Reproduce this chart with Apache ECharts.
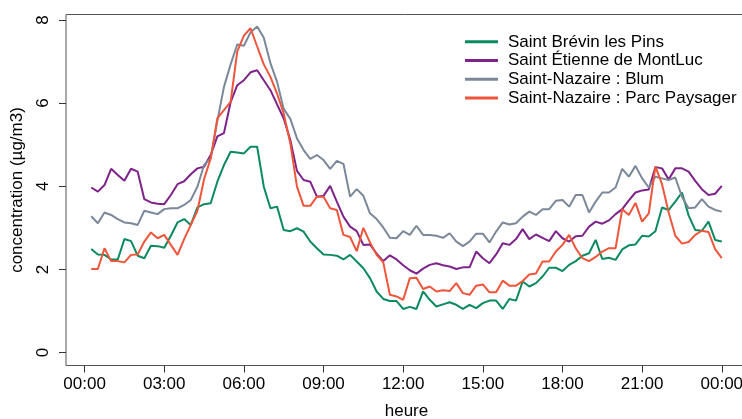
<!DOCTYPE html>
<html>
<head>
<meta charset="utf-8">
<script src="https://cdn.jsdelivr.net/npm/echarts@6/dist/echarts.min.js"></script>
<style>
  html, body { margin: 0; padding: 0; background: #fff; }
  #chart { width: 742px; height: 419px; }
</style>
</head>
<body>
<div id="chart"></div>
<script>
// Quarter-hour sampling times (hours after midnight), 00:15 .. 24:00
const hours = Array.from({ length: 96 }, (_, i) => (i + 1) * 0.25);

const stationNames = [
  'Saint Brévin les Pins',
  'Saint Étienne de MontLuc',
  'Saint-Nazaire : Blum',
  'Saint-Nazaire : Parc Paysager'
];

const stationColors = ['#0b8a5e', '#7d2389', '#7a8899', '#ef553b'];

const xTickHours = [0, 3, 6, 9, 12, 15, 18, 21, 24];
const yTickValues = [0, 2, 4, 6, 8];

// Mean concentration per quarter hour (µg/m3)
const stBrevin = [
  2.49, 2.36, 2.35, 2.24, 2.24, 2.73, 2.68, 2.33, 2.27, 2.57, 2.56, 2.52,
  2.81, 3.13, 3.21, 3.07, 3.49, 3.57, 3.59, 4.11, 4.51, 4.83, 4.81, 4.79,
  4.95, 4.95, 3.99, 3.47, 3.51, 2.95, 2.92, 2.99, 2.91, 2.67, 2.51, 2.36,
  2.35, 2.33, 2.24, 2.35, 2.19, 2.03, 1.79, 1.47, 1.29, 1.24, 1.24, 1.05,
  1.10, 1.05, 1.47, 1.27, 1.11, 1.16, 1.21, 1.15, 1.05, 1.15, 1.07, 1.19,
  1.25, 1.25, 1.05, 1.29, 1.25, 1.71, 1.59, 1.67, 1.83, 2.04, 2.04, 1.96,
  2.11, 2.20, 2.33, 2.39, 2.71, 2.25, 2.28, 2.23, 2.48, 2.58, 2.60, 2.81,
  2.79, 2.92, 3.49, 3.43, 3.63, 3.85, 3.30, 2.95, 2.93, 3.15, 2.71, 2.67
];

const stEtienne = [
  3.97, 3.87, 4.03, 4.42, 4.27, 4.13, 4.42, 4.35, 3.69, 3.61, 3.58, 3.57,
  3.79, 4.05, 4.12, 4.29, 4.43, 4.47, 4.75, 5.20, 5.28, 6.02, 6.43, 6.55,
  6.74, 6.79, 6.55, 6.31, 5.97, 5.63, 5.11, 4.37, 4.15, 4.11, 3.75, 3.77,
  4.01, 3.63, 3.27, 3.03, 2.92, 2.59, 2.60, 2.38, 2.20, 2.34, 2.24, 2.10,
  1.98, 1.90, 2.02, 2.11, 2.15, 2.10, 2.07, 2.01, 2.05, 2.05, 2.43, 2.27,
  2.15, 2.36, 2.63, 2.59, 2.73, 2.97, 2.73, 2.84, 2.76, 2.68, 2.92, 2.75,
  2.67, 2.80, 2.81, 3.03, 3.15, 3.10, 3.18, 3.33, 3.45, 3.66, 3.85, 3.90,
  3.92, 4.46, 4.43, 4.16, 4.43, 4.43, 4.35, 4.13, 3.93, 3.79, 3.82, 4.01
];

const snBlum = [
  3.28, 3.11, 3.37, 3.31, 3.21, 3.13, 3.11, 3.07, 3.41, 3.37, 3.33, 3.45,
  3.47, 3.47, 3.55, 3.67, 3.99, 4.51, 4.67, 5.57, 6.39, 6.93, 7.41, 7.38,
  7.70, 7.84, 7.57, 6.96, 6.51, 5.86, 5.62, 5.15, 4.87, 4.66, 4.75, 4.63,
  4.42, 4.61, 4.54, 3.75, 3.93, 3.77, 3.35, 3.21, 3.01, 2.76, 2.75, 2.92,
  2.83, 3.05, 2.83, 2.83, 2.81, 2.76, 2.87, 2.67, 2.56, 2.67, 2.86, 2.86,
  2.65, 2.91, 3.13, 3.08, 3.11, 3.27, 3.39, 3.31, 3.45, 3.45, 3.65, 3.67,
  3.51, 3.79, 3.79, 3.37, 3.63, 3.85, 3.85, 3.97, 4.42, 4.23, 4.49, 4.19,
  3.97, 4.23, 4.19, 4.15, 4.21, 3.75, 3.47, 3.49, 3.69, 3.51, 3.43, 3.39
];

const snParc = [
  2.01, 2.01, 2.51, 2.20, 2.20, 2.17, 2.35, 2.36, 2.67, 2.89, 2.75, 2.83,
  2.59, 2.35, 2.73, 3.07, 3.41, 4.17, 4.67, 5.63, 5.83, 6.03, 7.24, 7.62,
  7.80, 7.36, 6.93, 6.63, 6.23, 5.75, 5.03, 3.99, 3.53, 3.53, 3.75, 3.75,
  3.47, 3.43, 2.83, 2.78, 2.44, 3.00, 2.65, 2.35, 2.17, 1.39, 1.35, 1.27,
  1.79, 1.80, 1.53, 1.59, 1.47, 1.50, 1.48, 1.67, 1.43, 1.39, 1.61, 1.64,
  1.45, 1.45, 1.73, 1.61, 1.61, 1.72, 1.88, 1.90, 2.19, 2.19, 2.43, 2.59,
  2.83, 2.51, 2.27, 2.20, 2.30, 2.43, 2.51, 2.51, 3.45, 3.31, 3.60, 3.15,
  3.35, 4.47, 4.05, 3.37, 2.81, 2.62, 2.66, 2.83, 2.93, 2.90, 2.49, 2.27
];

const stationValues = [stBrevin, stEtienne, snBlum, snParc];

function hhmm(h) {
  const hh = Math.floor(h) % 24;
  const mm = Math.round((h - Math.floor(h)) * 60);
  return String(hh).padStart(2, '0') + ':' + String(mm).padStart(2, '0');
}

const FONT = '"Liberation Sans", Arial, sans-serif';
const FONT_SIZE = 17;

const chart = echarts.init(document.getElementById('chart'), null, { renderer: 'canvas' });

chart.setOption({
  animation: false,
  backgroundColor: '#ffffff',
  textStyle: { fontFamily: FONT },
  grid: {
    left: 66, top: 14.5, width: 681, height: 351,
    outerBoundsMode: 'none',
    containLabel: false,
    // plot frame (its right edge falls just past the canvas)
    show: true, borderColor: '#555', borderWidth: 1,
    backgroundColor: 'transparent'
  },
  legend: {
    orient: 'vertical',
    left: 460, top: 27.5,
    icon: 'rect',
    itemWidth: 33, itemHeight: 3,
    itemGap: 0,
    textStyle: {
      fontFamily: FONT, fontSize: FONT_SIZE, color: '#000',
      lineHeight: 18.7, padding: [0, 0, 0, 5]
    },
    data: stationNames
  },
  xAxis: {
    type: 'value',
    min: -0.7, max: 24.95,
    name: 'heure',
    nameLocation: 'middle',
    nameGap: 37,
    nameTextStyle: { fontFamily: FONT, fontSize: FONT_SIZE, color: '#000' },
    axisLine: { show: false, onZero: false },
    splitLine: { show: false },
    axisTick: {
      show: true, length: 7, inside: false,
      lineStyle: { color: '#333', width: 1 },
      customValues: xTickHours
    },
    axisLabel: {
      fontFamily: FONT, fontSize: FONT_SIZE, color: '#000',
      margin: 10,
      customValues: xTickHours,
      formatter: v => hhmm(v)
    }
  },
  yAxis: {
    type: 'value',
    min: -0.31, max: 8.13,
    name: 'concentration (µg/m3)',
    nameLocation: 'middle',
    nameRotate: 90,
    nameGap: 40,
    nameTextStyle: { fontFamily: FONT, fontSize: FONT_SIZE, color: '#000' },
    axisLine: { show: false, onZero: false },
    splitLine: { show: false },
    axisTick: {
      show: true, length: 7, inside: false,
      lineStyle: { color: '#333', width: 1 },
      customValues: yTickValues
    },
    axisLabel: {
      fontFamily: FONT, fontSize: FONT_SIZE, color: '#000',
      rotate: 90,
      margin: 14,
      customValues: yTickValues,
      formatter: v => String(v)
    }
  },
  series: stationNames.map((name, i) => ({
    name,
    type: 'line',
    data: hours.map((h, k) => [h, stationValues[i][k]]),
    showSymbol: false,
    symbol: 'none',
    color: stationColors[i],
    lineStyle: { color: stationColors[i], width: 2 },
    itemStyle: { color: stationColors[i] },
    emphasis: { disabled: true },
    z: 2 + i
  }))
});
</script>
</body>
</html>
